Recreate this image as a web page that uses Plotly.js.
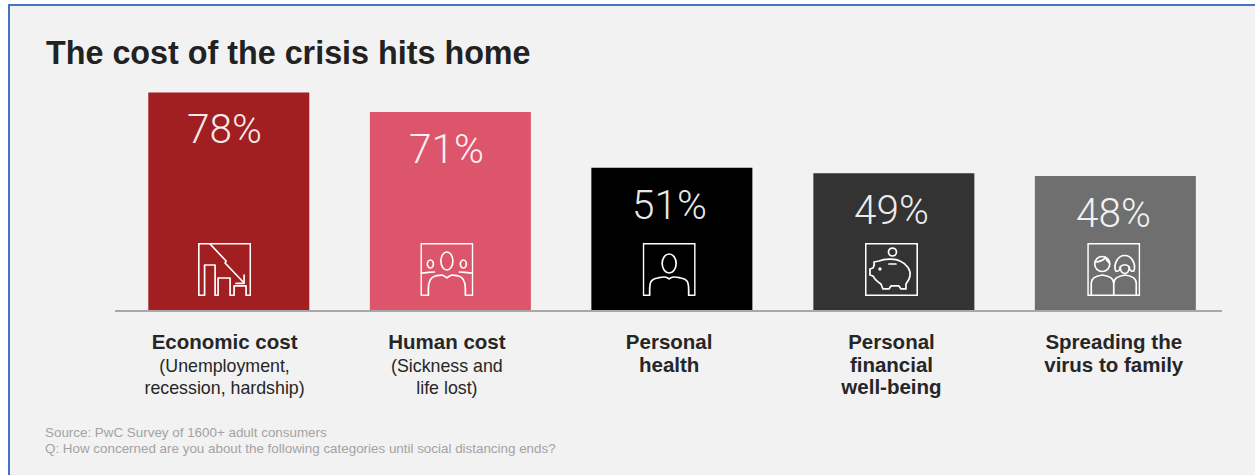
<!DOCTYPE html>
<html>
<head>
<meta charset="utf-8">
<title>The cost of the crisis hits home</title>
<script src="https://cdn.plot.ly/plotly-3.0.1.min.js"></script>
<style>
  html, body { margin: 0; padding: 0; width: 1255px; height: 475px; background: #fff; overflow: hidden; }
  #panel { position: absolute; left: 8px; top: 4px; right: 0; bottom: 0; background: #f2f2f2;
           border-left: 2px solid #4472c4; border-top: 2px solid #4472c4; }
  #chart { position: absolute; left: 0; top: 0; width: 1255px; height: 475px; }
</style>
</head>
<body>
<div id="panel"></div>
<div id="chart"></div>
<script>
const categories = ['Economic cost', 'Human cost', 'Personal health', 'Personal financial well-being', 'Spreading the virus to family'];
const values = [78, 71, 51, 49, 48];
const barColors = ['#a11f20', '#dd556b', '#000000', '#333333', '#6f6f6f'];
const head = t => `<span style="font-size:20.5px"><b>${t}</b></span>`;
const sub = t => `<span style="font-size:17.8px">${t}</span>`;
const tickLabels = [
  [head('Economic cost'), sub('(Unemployment,'), sub('recession, hardship)')].join('<br>'),
  [head('Human cost'), sub('(Sickness and'), sub('life lost)')].join('<br>'),
  [head('Personal'), head('health')].join('<br>'),
  [head('Personal'), head('financial'), head('well-being')].join('<br>'),
  [head('Spreading the'), head('virus to family')].join('<br>')
];
const titleText = 'The cost of the crisis hits home';
const sourceLines = ['Source: PwC Survey of 1600+ adult consumers', 'Q: How concerned are you about the following categories until social distancing ends?'];

// Line-art pictograms, one per category, in a 53-unit square.
const iconPaths = [
  // falling chart
  `<path d="M.7 52.3V.7H52.3V52.3H48V43H36V52.3H32V35H20V52.3H17V22H6.5V52.3Z"/>
   <path d="M12 1L28 18L27 20L46 40M46 32V40.5H38" />`,
  // three people
  `<path d="M.7 30V.7H52.3V30M.7 30V52.3H8V46C8 38 10 34 15 33C20 32 22 31 26.5 35C31 31 33 32 38 33C43 34 45 38 45 46V52.3H52.3V30"/>
   <ellipse cx="26.5" cy="18" rx="6" ry="9"/><ellipse cx="10" cy="21" rx="3" ry="4"/><ellipse cx="43" cy="21" rx="3" ry="4"/>
   <path d="M.7 30C6 30 10 29 14 29M52.3 30C47 30 43 29 39 29"/>`,
  // one person
  `<path d="M.7 52.3V.7H52.3V52.3H46V47C46 38 44 36 38 35C33 34 30 33 26.5 36C23 33 20 34 15 35C9 36 7 38 7 47V52.3Z"/>
   <ellipse cx="26.5" cy="20.5" rx="7" ry="9.5"/>`,
  // piggy bank and coin
  `<rect x=".7" y=".7" width="51.6" height="51.6"/><circle cx="27.5" cy="9" r="4"/>
   <path d="M9 19L14 18C19 16 30 15 35 18C42 21 46 27 45 33C44 38 42 39 41 41V46H36L34 43H26L24 46H18L16 41C11 38 9 35 8 33L5 32V26L8 25C9 23 10 22 9 19Z"/>
   <path d="M24 21H31"/><circle cx="15" cy="26" r=".8"/>`,
  // two people side by side
  `<rect x=".7" y=".7" width="51.6" height="51.6"/><path d="M26.5 38V52"/>
   <circle cx="15" cy="21" r="7.5"/><path d="M9 19C13 18 16 18 18 14.5M18 14.5C19 17 21 19 22 20"/>
   <path d="M28.5 28C26 22 30 12.5 37.5 12.5C45 12.5 49 22 46.5 28C44 29 42 27 42 24C40 21 35 21 33 24C33 27 31 29 28.5 28Z"/>
   <path d="M33 24C33 28 35 30.5 37.5 30.5C40 30.5 42 28 42 24"/>
   <path d="M4 52V40C4 35 8 33 15 32C22 33 26.5 35 26.5 40C26.5 35 31 33 38 32C45 33 49 35 49 40V52"/>`
];
const iconSource = body => 'data:image/svg+xml;utf8,' + encodeURIComponent(
  `<svg xmlns="http://www.w3.org/2000/svg" viewBox="0 0 53 53" width="212" height="212" fill="none" stroke="#fff" stroke-width="1.7" stroke-linejoin="round" stroke-linecap="round">${body}</svg>`);

// Plot-area geometry in page pixels; used to place text outside the axes.
const W = 1255, H = 475, L = 115, R = 1222, T = 30.5, B = 310;
const paperX = px => (px - L) / (R - L);
const paperY = py => (B - py) / (B - T);

// Bars sit a few pixels right of their labels, slightly less so towards the right.
const xRange = [-0.493, 4.487];
const unit = (R - L) / (xRange[1] - xRange[0]);
const barWidth = 161 / unit;
const barShiftPx = [4.2, 3.5, 2.7, 2.4, 1.6];

const trace = {
  type: 'bar',
  x: categories,
  y: values,
  width: barWidth,
  offset: barShiftPx.map(s => -barWidth / 2 + s / unit),
  marker: { color: barColors, line: { width: 0 } },
  hoverinfo: 'skip'
};

const valueLabels = categories.map((c, i) => ({
  x: c, y: values[i], xref: 'x', yref: 'y',
  text: values[i] + '%', showarrow: false, yanchor: 'top', yshift: -11,
  font: { family: 'Roboto, Liberation Sans, sans-serif', size: 40.5, weight: 300, color: 'rgba(255,255,255,0.92)' }
}));

const notes = sourceLines.map((t, i) => ({
  x: paperX(43), y: paperY(432.5 + i * 16.5), xref: 'paper', yref: 'paper',
  xanchor: 'left', yanchor: 'middle', showarrow: false, text: t, align: 'left',
  font: { family: 'Liberation Sans, Arial, sans-serif', size: 13.4, color: '#a3a3a3' }
}));

const icons = categories.map((c, i) => ({
  source: iconSource(iconPaths[i]),
  xref: 'x', yref: 'y', x: c, y: 24,
  sizex: 53 / unit, sizey: 18.96, sizing: 'stretch',
  xanchor: 'center', yanchor: 'top', layer: 'above'
}));

const layout = {
  width: W, height: H,
  margin: { l: L, r: W - R, t: T, b: H - B, pad: 0 },
  paper_bgcolor: 'rgba(0,0,0,0)',
  plot_bgcolor: 'rgba(0,0,0,0)',
  showlegend: false,
  title: {
    text: '<b>' + titleText + '</b>',
    x: 46 / W, xanchor: 'left', xref: 'container',
    y: 1 - 53 / H, yanchor: 'middle', yref: 'container',
    font: { family: 'Liberation Sans, Arial, sans-serif', size: 32.3, color: '#222222' }
  },
  xaxis: {
    type: 'category',
    range: xRange,
    tickmode: 'array', tickvals: categories, ticktext: tickLabels,
    ticks: '', showgrid: false, zeroline: false,
    showline: true, linecolor: '#a8a8a8', linewidth: 2,
    ticklabelstandoff: 17,
    tickangle: 0,
    tickfont: { family: 'Liberation Sans, Arial, sans-serif', size: 17, color: '#262626' },
    fixedrange: true
  },
  yaxis: { range: [0, 100], visible: false, fixedrange: true },
  annotations: valueLabels.concat(notes),
  images: icons
};

Plotly.newPlot('chart', [trace], layout, { displayModeBar: false, responsive: false, staticPlot: true });
</script>
</body>
</html>
